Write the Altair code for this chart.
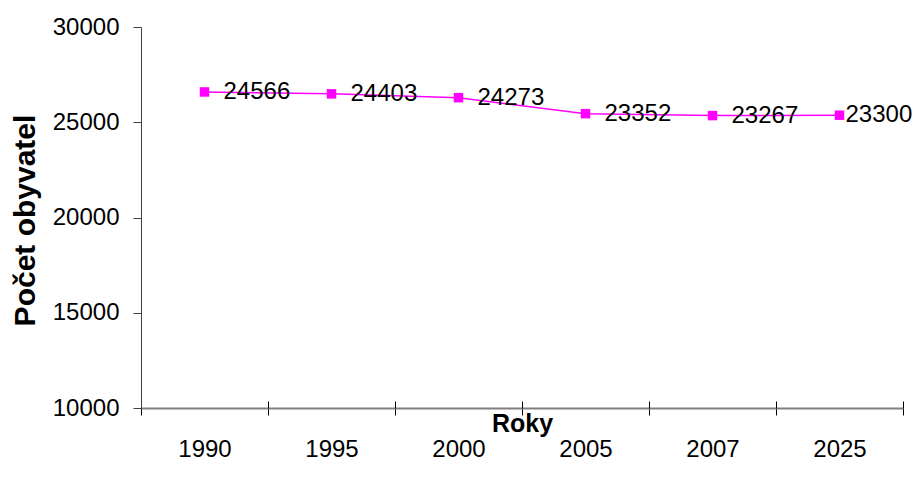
import altair as alt
import pandas as pd

years = ["1990", "1995", "2000", "2005", "2007", "2025"]
plotted = [26590, 26490, 26290, 25450, 25350, 25370]
labels = [24566, 24403, 24273, 23352, 23267, 23300]
y_ticks = [10000, 15000, 20000, 25000, 30000]

df = pd.DataFrame({"year": years, "value": plotted, "label": [str(v) for v in labels]})

FONT = "Liberation Sans"
MAG = "#FF00FF"
W, H = 762, 381

xscale = alt.Scale(type="band", paddingInner=0, paddingOuter=0)

base = alt.Chart(df)

yenc = alt.Y(
    "value:Q",
    scale=alt.Scale(domain=[10000, 30000], nice=False, zero=False),
    axis=alt.Axis(
        values=y_ticks, format="d", grid=False, tickSize=8, labelPadding=14,
        labelFont=FONT, labelFontSize=24, labelColor="black",
        domainColor="#404040", tickColor="#404040",
        title="Počet obyvatel", titleFont=FONT, titleFontSize=30, titleFontWeight="bold",
        titleColor="black", titleX=-116, titleY=193, titleBaseline="middle",
    ),
)

line = base.mark_line(color=MAG, strokeWidth=1.5).encode(
    x=alt.X(
        "year:N", sort=years, scale=xscale, bandPosition=0.5,
        axis=alt.Axis(
            title="Roky", labelAngle=0, tickBand="extent", tickSize=7, labelPadding=22,
            domainColor="#808080", domainWidth=2, tickColor="black", grid=False,
            labelFont=FONT, labelFontSize=24, labelColor="black",
            titleFont=FONT, titleFontSize=25, titleFontWeight="bold", titleColor="black",
            titleY=15, titleBaseline="middle",
        ),
    ),
    y=yenc,
)

points = base.mark_square(size=90, color=MAG, opacity=1, filled=True).encode(
    x=alt.X("year:N", sort=years, scale=xscale, bandPosition=0.5, axis=None),
    y=alt.Y("value:Q", axis=None),
)

text_main = base.transform_filter(alt.datum.year != years[-1]).mark_text(
    align="left", baseline="middle", dx=19, fontSize=24, font=FONT, color="black"
).encode(
    x=alt.X(
        "year:N", sort=years, scale=xscale, bandPosition=0.5,
        axis=alt.Axis(
            orient="top", offset=-H, labels=False, domain=False, title=None,
            tickBand="extent", tickSize=7, tickColor="black", grid=False,
        ),
    ),
    y=alt.Y("value:Q", axis=None),
    text="label:N",
)

text_last = base.transform_filter(alt.datum.year == years[-1]).mark_text(
    align="left", baseline="middle", dx=6, fontSize=24, font=FONT, color="black"
).encode(
    x=alt.X("year:N", sort=years, scale=xscale, bandPosition=0.5, axis=None),
    y=alt.Y("value:Q", axis=None),
    text="label:N",
)

chart = (
    alt.layer(line, points, text_main, text_last)
    .resolve_axis(x="independent", y="independent")
    .properties(
        width=W, height=H,
        autosize=alt.AutoSizeParams(type="none"),
        padding={"left": 133, "top": 19, "right": 10, "bottom": 68},
        background="white",
    )
    .configure_view(stroke=None)
)

chart.save("out.html", embed_options={"renderer": "svg", "actions": False})
